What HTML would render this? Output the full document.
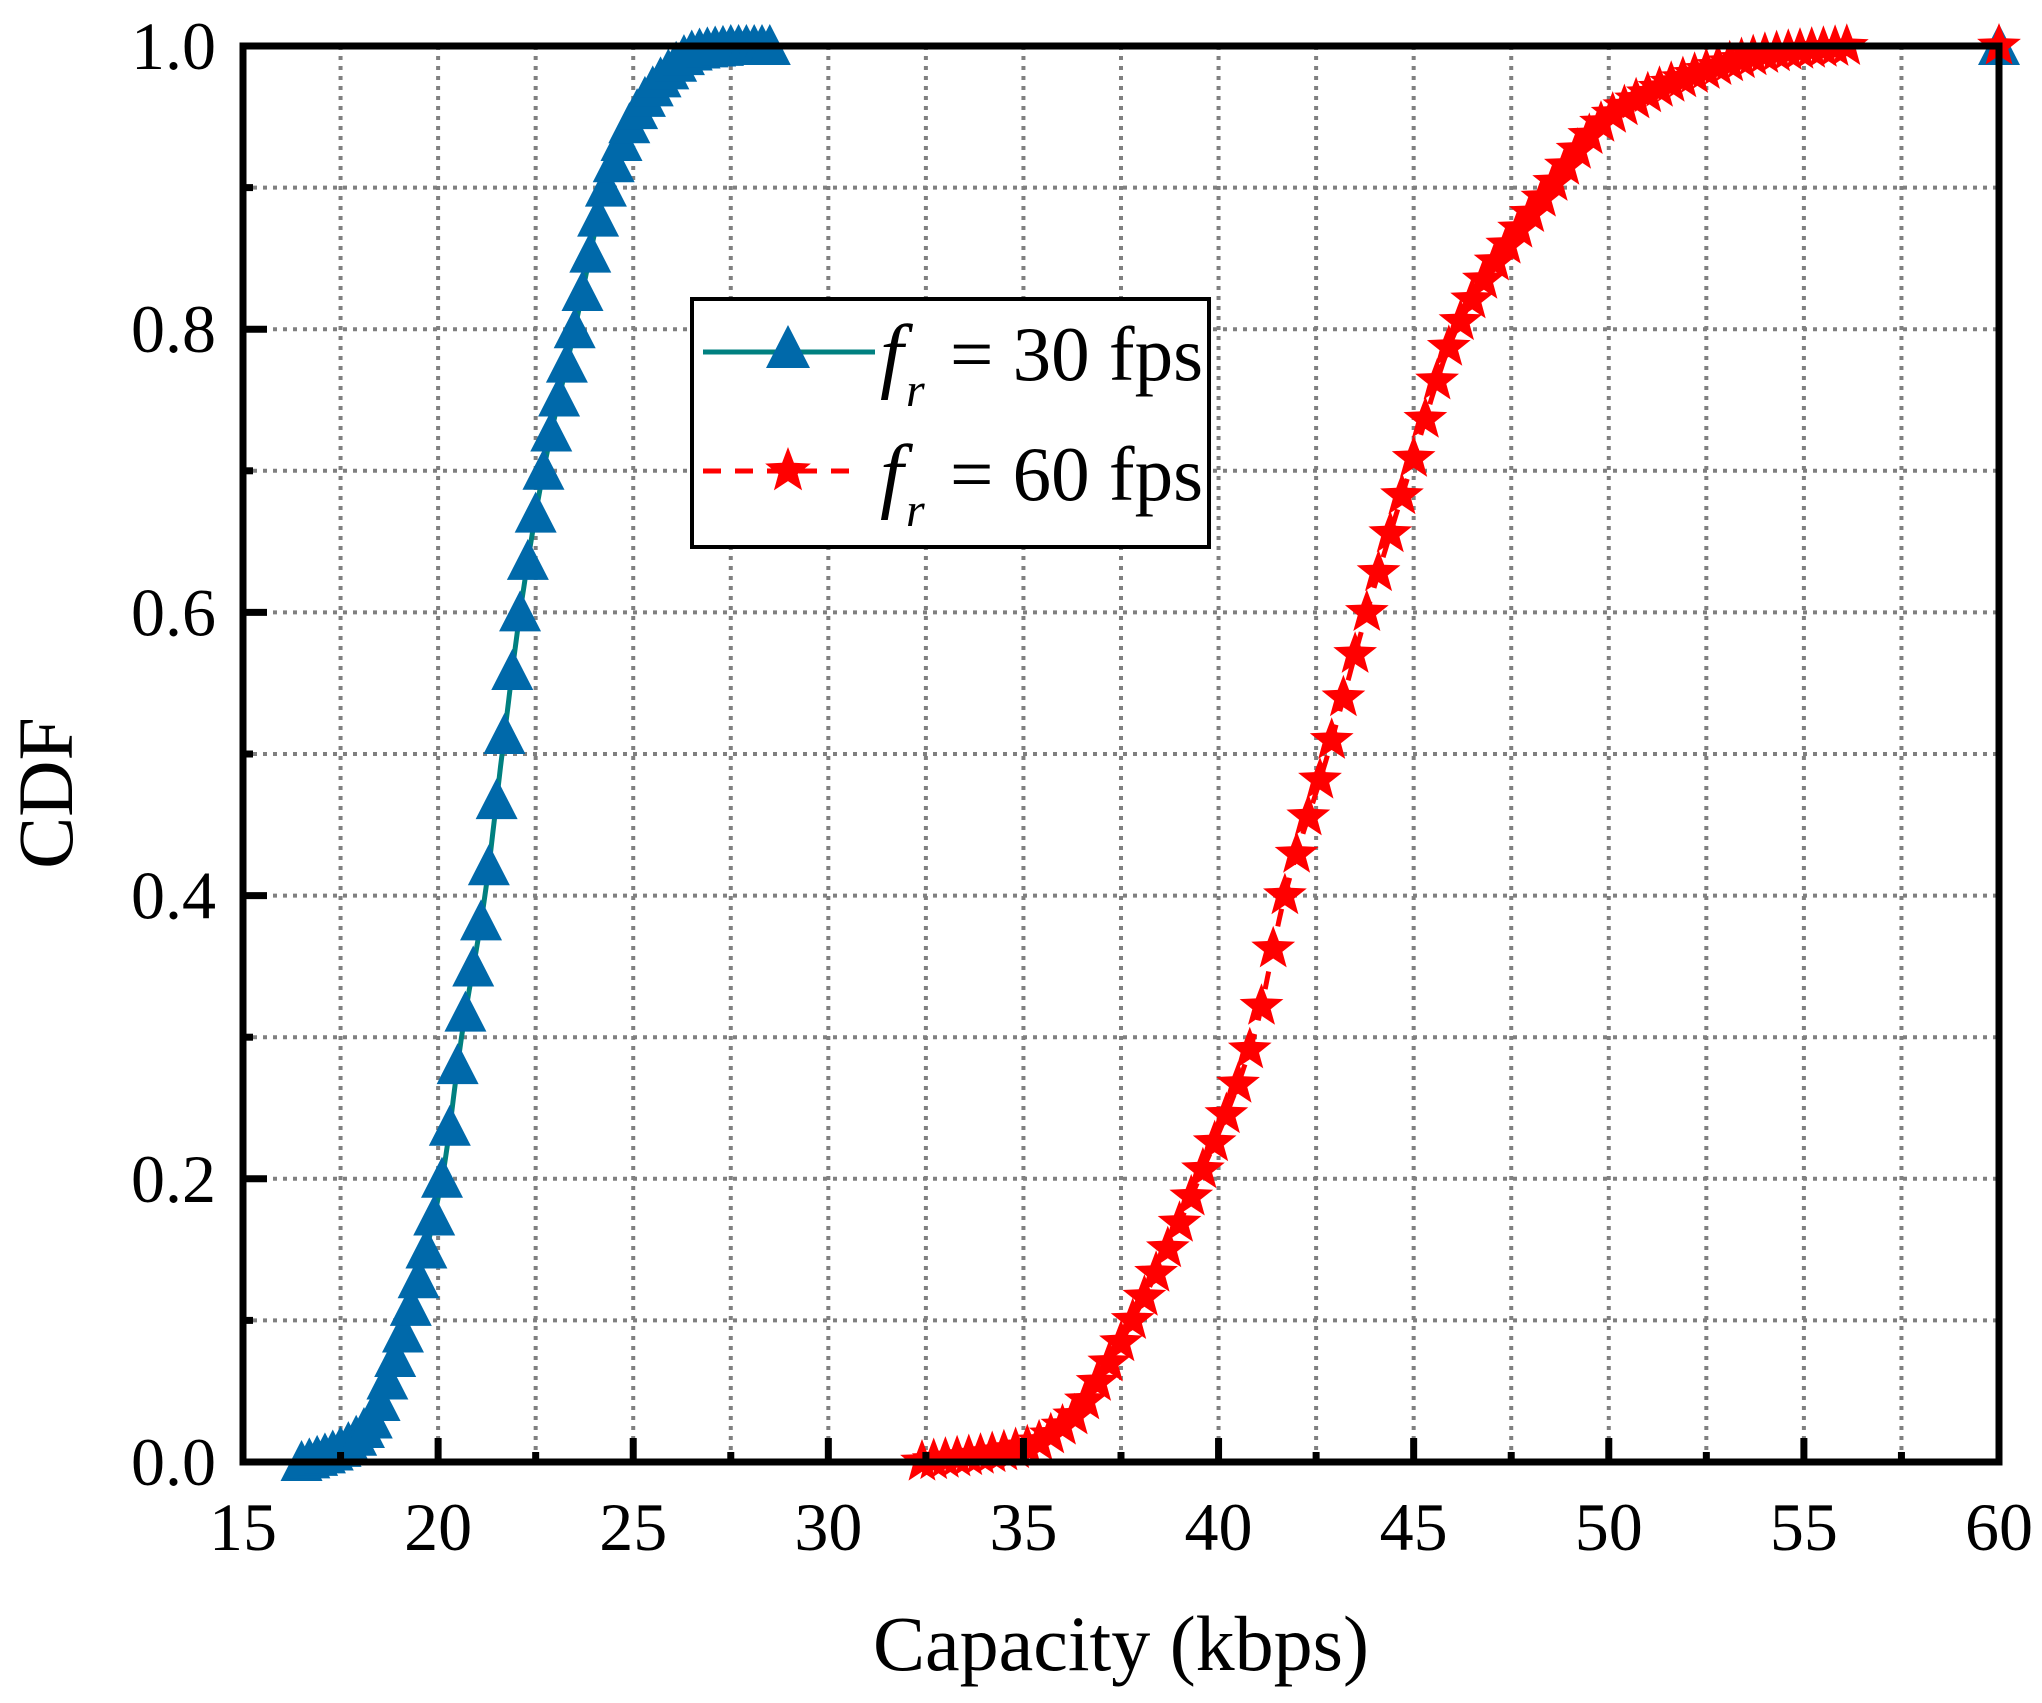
<!DOCTYPE html>
<html><head><meta charset="utf-8"><style>
html,body{margin:0;padding:0;background:#fff}
svg{display:block}
text{font-family:"Liberation Serif",serif;fill:#000}
</style></head><body>
<svg id="s" width="2042" height="1703" viewBox="0 0 2042 1703" xmlns="http://www.w3.org/2000/svg">
<g id="grid"></g>
<g id="data"></g>
<g id="axes"></g>
<g id="labels"></g>
<g id="legend">
<rect x="692" y="299" width="517" height="248" fill="#fff" stroke="#000" stroke-width="4"/>
<line x1="703" y1="352" x2="875" y2="352" stroke="#008080" stroke-width="5"/>
<polygon points="788,325 766,368 810,368" fill="#0069aa"/>
<line x1="703" y1="471" x2="862" y2="471" stroke="#ff0000" stroke-width="5" stroke-dasharray="18,14"/>
<g id="lstar"></g>
<text x="880" y="382" font-size="84" font-style="italic">f</text>
<text x="906" y="406" font-size="48" font-style="italic">r</text>
<text x="950" y="380" font-size="77">= 30 fps</text>
<text x="880" y="502" font-size="84" font-style="italic">f</text>
<text x="906" y="526" font-size="48" font-style="italic">r</text>
<text x="950" y="500" font-size="77">= 60 fps</text>
</g>
</svg>
<script>
const NS="http://www.w3.org/2000/svg";
const L=243,R=1999,T=46,B=1462;
const X=v=>L+(v-15)*(R-L)/45, Y=v=>B-v*(B-T);
function el(p,tag,a){const e=document.createElementNS(NS,tag);for(const k in a)e.setAttribute(k,a[k]);p.appendChild(e);return e;}
const g=document.getElementById('grid'),ax=document.getElementById('axes'),lb=document.getElementById('labels'),dt=document.getElementById('data');
for(let v=17.5;v<60;v+=2.5)el(g,'line',{x1:X(v),x2:X(v),y1:T,y2:B,stroke:'#808080','stroke-width':4,'stroke-dasharray':'4,6'});
for(let i=1;i<10;i++)el(g,'line',{x1:L,x2:R,y1:Y(i/10),y2:Y(i/10),stroke:'#808080','stroke-width':4,'stroke-dasharray':'4,6'});
for(let i=0;i<=18;i++){const v=15+2.5*i,len=i%2?10:24;el(ax,'line',{x1:X(v),x2:X(v),y1:B,y2:B-len,stroke:'#000','stroke-width':7});}
for(let i=0;i<=10;i++){const len=i%2?10:24;el(ax,'line',{x1:L,x2:L+len,y1:Y(i/10),y2:Y(i/10),stroke:'#000','stroke-width':7});}
for(let v=15;v<=60;v+=5){const t=el(lb,'text',{x:X(v),y:1550,'font-size':68,'text-anchor':'middle'});t.textContent=v;}
for(let i=0;i<=5;i++){const t=el(lb,'text',{x:216,y:Y(i/5)+23,'font-size':68,'text-anchor':'end'});t.textContent=(i/5).toFixed(1);}
{const t=el(lb,'text',{x:1121,y:1670,'font-size':78,'text-anchor':'middle'});t.textContent='Capacity (kbps)';}
{const t=el(lb,'text',{x:0,y:0,'font-size':78,'text-anchor':'middle',transform:'translate(72,793) rotate(-90)'});t.textContent='CDF';}
function mono(xs,ys){const n=xs.length,d=[],m=[];for(let i=0;i<n-1;i++)d.push((ys[i+1]-ys[i])/(xs[i+1]-xs[i]));
m[0]=d[0];m[n-1]=d[n-2];for(let i=1;i<n-1;i++){m[i]=(d[i-1]*d[i]<=0)?0:2/(1/d[i-1]+1/d[i]);}
for(let i=0;i<n-1;i++){if(d[i]==0){m[i]=m[i+1]=0;continue;}const a=m[i]/d[i],b=m[i+1]/d[i],s=a*a+b*b;if(s>9){const t=3/Math.sqrt(s);m[i]=t*a*d[i];m[i+1]=t*b*d[i];}}
return x=>{if(x<=xs[0])return ys[0];if(x>=xs[n-1])return ys[n-1];let i=0;while(x>xs[i+1])i++;const h=xs[i+1]-xs[i],t=(x-xs[i])/h,t2=t*t,t3=t2*t;
return (2*t3-3*t2+1)*ys[i]+(t3-2*t2+t)*h*m[i]+(-2*t3+3*t2)*ys[i+1]+(t3-t2)*h*m[i+1];};}
const fb=mono([16.5,17.5,18.3,18.6,19.2,20.1,20.6,21.2,21.64,22.1,22.7,23.5,24.3,25.0,25.8,26.6,27.5],[0,0.01,0.03,0.05,0.1,0.2,0.3,0.4,0.5,0.6,0.7,0.8,0.9,0.95,0.98,0.997,1]);
const fr=mono([32.4,35,36.2,37.2,37.8,39.5,40.9,41.7,42.8,43.8,44.9,46.1,48.5,50,52.2,54.2,56.2],[0,0.01,0.03,0.07,0.1,0.2,0.3,0.4,0.5,0.6,0.7,0.8,0.9,0.95,0.98,0.995,1]);
function series(f,x0,x1,color,dash,step,mk,mxEnd){
 let d=`M${X(15)},${Y(0)} L${X(x0)},${Y(0)}`;for(let x=x0;x<=x1+1e-9;x+=0.05)d+=` L${X(x).toFixed(1)},${Y(f(x)).toFixed(1)}`;d+=` L${X(60)},${Y(1)}`;
 const a={d:d,fill:'none',stroke:color,'stroke-width':5};if(dash)a['stroke-dasharray']=dash;el(dt,'path',a);
 for(let x=x0;x<=mxEnd+1e-9;x+=step)mk(X(x),Y(f(x)));mk(X(60),Y(1));}
function tri(cx,cy,p){el(p||dt,'polygon',{points:`${cx},${cy-22} ${cx-21},${cy+19} ${cx+21},${cy+19}`,fill:'#0069aa'});}
function star(cx,cy,p,r){r=r||23;let pts=[];for(let i=0;i<10;i++){const rr=i%2?r*0.42:r,a=-Math.PI/2+i*Math.PI/5;pts.push((cx+rr*Math.cos(a)).toFixed(1)+','+(cy+rr*Math.sin(a)).toFixed(1));}
 el(p||dt,'polygon',{points:pts.join(' '),fill:'#ff0000'});}
series(fb,16.5,27.5,'#008080',null,0.2,tri,28.5);
series(fr,32.4,56.2,'#ff0000','18,14',0.3,star,56.2);
star(788,471,document.getElementById('lstar'),24);
el(ax,'rect',{x:L,y:T,width:R-L,height:B-T,fill:'none',stroke:'#000','stroke-width':7});
document.getElementById('s').appendChild(document.getElementById('legend'));
</script>
</body></html>
